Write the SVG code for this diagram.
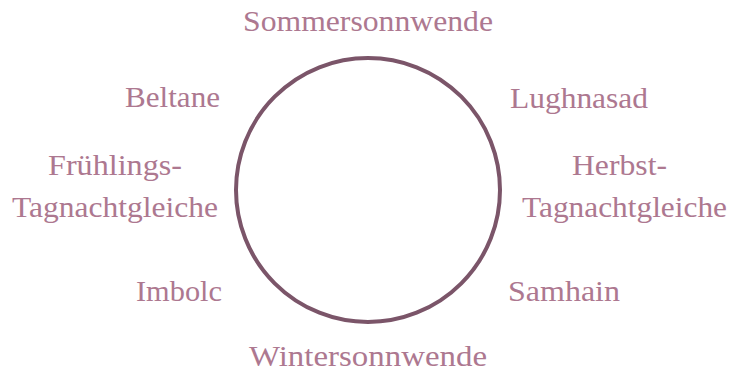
<svg xmlns="http://www.w3.org/2000/svg" width="729" height="374" viewBox="0 0 729 374">
<style>
.lbl{font-family:"Liberation Serif","DejaVu Serif",serif;font-size:29px;fill:#ad7890}
.ring{fill:none;stroke:#7b5569;stroke-width:4}
</style>
<rect width="729" height="374" fill="#ffffff"/>
<g id="circle"><circle class="ring" cx="368" cy="190" r="132"/></g>
<g id="connectors"></g>
<g id="sommersonnwende"><text class="lbl" x="243" y="31" textLength="250" lengthAdjust="spacingAndGlyphs">Sommersonnwende</text></g>
<g id="lughnasad"><text class="lbl" x="510" y="108" textLength="138" lengthAdjust="spacingAndGlyphs">Lughnasad</text></g>
<g id="herbst"><text class="lbl" x="572" y="175" textLength="95" lengthAdjust="spacingAndGlyphs">Herbst-</text><text class="lbl" x="522" y="217" textLength="205" lengthAdjust="spacingAndGlyphs">Tagnachtgleiche</text></g>
<g id="samhain"><text class="lbl" x="508" y="301" textLength="112" lengthAdjust="spacingAndGlyphs">Samhain</text></g>
<g id="wintersonnwende"><text class="lbl" x="249" y="366" textLength="238" lengthAdjust="spacingAndGlyphs">Wintersonnwende</text></g>
<g id="imbolc"><text class="lbl" x="136" y="301" textLength="86" lengthAdjust="spacingAndGlyphs">Imbolc</text></g>
<g id="fruehling"><text class="lbl" x="48" y="175" textLength="134" lengthAdjust="spacingAndGlyphs">Frühlings-</text><text class="lbl" x="12" y="217" textLength="206" lengthAdjust="spacingAndGlyphs">Tagnachtgleiche</text></g>
<g id="beltane"><text class="lbl" x="125" y="107" textLength="95" lengthAdjust="spacingAndGlyphs">Beltane</text></g>
</svg>
